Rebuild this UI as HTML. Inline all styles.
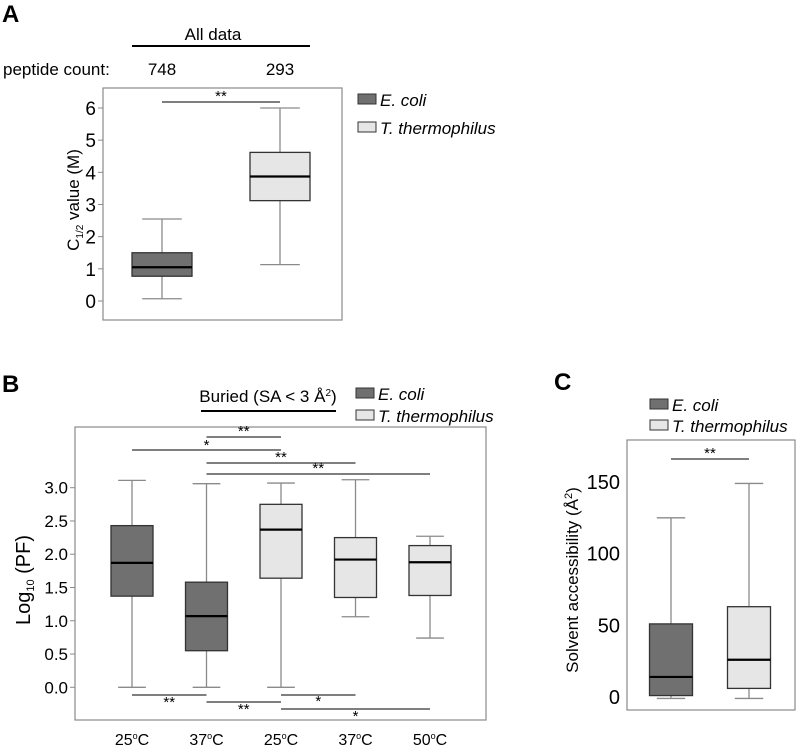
<!DOCTYPE html>
<html><head><meta charset="utf-8"><style>
body{margin:0;background:#fff}
svg{display:block;font-family:"Liberation Sans",sans-serif}
</style></head><body>
<svg id="s" width="796" height="748" xmlns="http://www.w3.org/2000/svg">
<g font-weight="bold" font-size="24" fill="#000">
<text x="2" y="22">A</text>
<text x="2" y="392">B</text>
<text x="554" y="390">C</text>
</g>
<text x="213" y="40" font-size="17" text-anchor="middle">All data</text>
<line x1="132" y1="46" x2="310" y2="46" stroke="#000" stroke-width="2"/>
<text x="3" y="75" font-size="17">peptide count:</text>
<text x="162" y="75" font-size="17" text-anchor="middle">748</text>
<text x="280" y="75" font-size="17" text-anchor="middle">293</text>
<text x="268" y="402" font-size="17" text-anchor="middle">Buried (SA &lt; 3 Å<tspan font-size="10" dy="-6">2</tspan><tspan dy="6">)</tspan></text>
<line x1="201" y1="411" x2="336" y2="411" stroke="#000" stroke-width="2"/>
</svg>
<script>
// Panel A data
const aCats=["E. coli","T. thermophilus"];
const aLow=[0.07,1.13],aQ1=[0.77,3.12],aMed=[1.05,3.87],aQ3=[1.5,4.62],aHigh=[2.55,6.0];
const aTicks=[0,1,2,3,4,5,6];
// Panel B data
const bCats=["25oC","37oC","25oC","37oC","50oC"];
const bSpecies=[0,0,1,1,1];
const bLow=[0,0,0,1.06,0.74],bQ1=[1.37,0.55,1.64,1.35,1.38],bMed=[1.87,1.07,2.37,1.92,1.88],bQ3=[2.43,1.58,2.75,2.25,2.13],bHigh=[3.11,3.06,3.07,3.12,2.27];
const bTicks=["0.0","0.5","1.0","1.5","2.0","2.5","3.0"];
// Panel C data
const cLow=[-1,-1],cQ1=[1,6],cMed=[14,26],cQ3=[51,63],cHigh=[125,149];
const cTicks=[0,50,100,150];

const S=document.getElementById('s');const NS='http://www.w3.org/2000/svg';
function mk(t,a,txt){const e=document.createElementNS(NS,t);for(const k in a)e.setAttribute(k,a[k]);if(txt!==undefined)e.textContent=txt;S.appendChild(e);return e;}
const fills=['#707070','#e6e6e6'];
function box(x,w,y,lo,q1,md,q3,hi,sp,name){
 const g=mk('line',{x1:x,x2:x,y1:y(hi),y2:y(lo),stroke:'#8a8a8a','stroke-width':1.3});
 
 for(const v of [lo,hi]){const c=mk('line',{x1:x-w*0.33,x2:x+w*0.33,y1:y(v),y2:y(v),stroke:'#8a8a8a','stroke-width':1.3});
 }
 const r=mk('rect',{x:x-w/2,y:y(q3),width:w,height:y(q1)-y(q3),fill:fills[sp],stroke:'#333','stroke-width':1.3});
 
 const m=mk('line',{x1:x-w/2,x2:x+w/2,y1:y(md),y2:y(md),stroke:'#000','stroke-width':2.2});
 
}
function frame(x1,y1,x2,y2,name){const f=mk('rect',{x:x1,y:y1,width:x2-x1,height:y2-y1,fill:'none',stroke:'#8a8a8a','stroke-width':1.2});
 }
function sig(x1,x2,yy,lab,ly,name){const l=mk('line',{x1:x1,x2:x2,y1:yy,y2:yy,stroke:'#333','stroke-width':1.2});
 
 const t=mk('text',{x:(x1+x2)/2,y:ly,'font-size':15,'text-anchor':'middle'},lab);
 }
function legend(x,y0,gap,name){
 const labs=['E. coli','T. thermophilus'];
 for(let i=0;i<2;i++){const r=mk('rect',{x:x,y:y0+i*gap,width:18,height:10,fill:fills[i],stroke:'#333','stroke-width':1});
 
 const t=mk('text',{x:x+22,y:y0+i*gap+12,'font-size':17,'font-style':'italic'},labs[i]);
 }
}
function ytitle(x,y,html,name,fs){const t=mk('text',{transform:`translate(${x},${y}) rotate(-90)`,'font-size':fs||18,'text-anchor':'middle'});
 t.innerHTML=html;}

// Panel A
const yA=v=>301-v*(301-108)/6;
frame(103,88,342,320,'panel-a-frame');
aTicks.forEach(v=>{const t=mk('text',{x:96,y:yA(v)+7,'font-size':19,'text-anchor':'end'},v);
 
 const l=mk('line',{x1:98,x2:103,y1:yA(v),y2:yA(v),stroke:'#8a8a8a'});});
const axA=[162,280];
for(let i=0;i<2;i++)box(axA[i],60,yA,aLow[i],aQ1[i],aMed[i],aQ3[i],aHigh[i],i,'a-'+(i?'tth':'ecoli'));
sig(162,280,102,'**',101,'a-sig');
legend(358,94,28,'a-legend');
ytitle(79,200,'C<tspan font-size="10" dy="4">1/2</tspan><tspan dy="-4"> value (M)</tspan>','a-y-axis-title',17);

// Panel B
const yB=v=>687.3-v*(687.3-487.7)/3;
frame(75,427,486,720,'panel-b-frame');
bTicks.forEach(s=>{const v=parseFloat(s);const t=mk('text',{x:68,y:yB(v)+6,'font-size':17,'text-anchor':'end'},s);
 
 const l=mk('line',{x1:70,x2:75,y1:yB(v),y2:yB(v),stroke:'#8a8a8a'});});
const xB=i=>132+i*74.5;
bCats.forEach((c,i)=>{box(xB(i),42,yB,bLow[i],bQ1[i],bMed[i],bQ3[i],bHigh[i],bSpecies[i],'b-group-'+(i+1));
 const t=mk('text',{x:xB(i),y:745,'font-size':16,'text-anchor':'middle'});t.innerHTML=c.slice(0,2)+'<tspan font-size="9" dy="-6">o</tspan><tspan dy="6">C</tspan>';
 });
sig(xB(1),xB(2),437,'**',436,'b-sig-2-3');
sig(xB(0),xB(2),450,'*',450,'b-sig-1-3');
sig(xB(1),xB(3),463,'**',462,'b-sig-2-4');
sig(xB(1),xB(4),474,'**',473,'b-sig-2-5');
sig(xB(0),xB(1),695,'**',707,'b-sig-1-2');
sig(xB(1),xB(2),702,'**',714,'b-sig-2-3-low');
sig(xB(2),xB(3),695,'*',706,'b-sig-3-4');
sig(xB(2),xB(4),709,'*',721,'b-sig-3-5');
legend(356,388,22,'b-legend');
ytitle(30,580,'Log<tspan font-size="11" dy="4">10</tspan><tspan dy="-4"> (PF)</tspan>','b-y-axis-title',20);

// Panel C
const yC=v=>697-v*(697-482)/150;
frame(627,440,795,710,'panel-c-frame');
cTicks.forEach(v=>{const t=mk('text',{x:620,y:yC(v)+7,'font-size':20,'text-anchor':'end'},v);
 });
const axC=[671,749];
for(let i=0;i<2;i++)box(axC[i],43,yC,cLow[i],cQ1[i],cMed[i],cQ3[i],cHigh[i],i,'c-'+(i?'tth':'ecoli'));
sig(671,749,459,'**',458,'c-sig');
legend(650,399,21,'c-legend');
ytitle(578,580,'Solvent accessibility  (Å<tspan font-size="11" dy="-6">2</tspan><tspan dy="6">)</tspan>','c-y-axis-title',17);
</script>
</body></html>
